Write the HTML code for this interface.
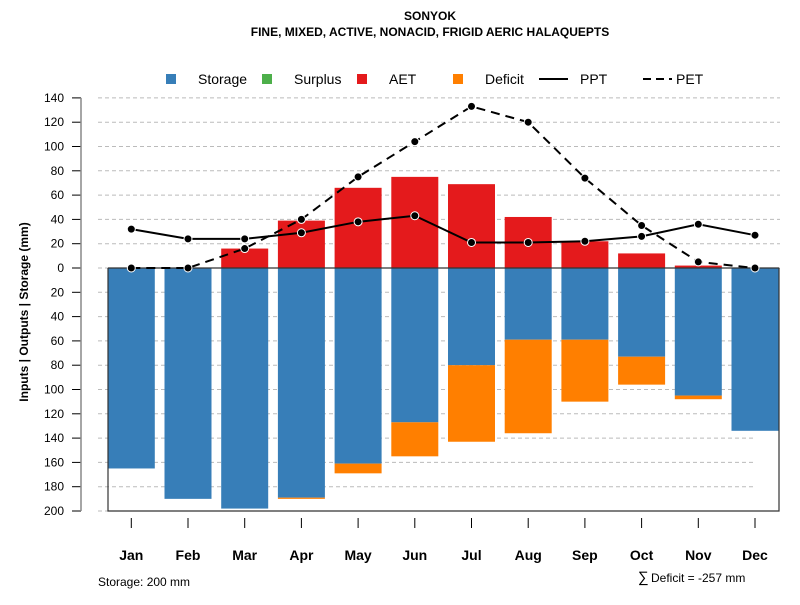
<!DOCTYPE html>
<html><head><meta charset="utf-8"><style>
body{margin:0;background:#fff}
svg text{font-family:"Liberation Sans",Arial,sans-serif}
</style></head><body>
<svg id="c" width="800" height="600" xmlns="http://www.w3.org/2000/svg">
<text x="430" y="20" text-anchor="middle" font-size="12" font-weight="bold">SONYOK</text>
<text x="430" y="36" text-anchor="middle" font-size="12" font-weight="bold">FINE, MIXED, ACTIVE, NONACID, FRIGID AERIC HALAQUEPTS</text>
<g font-size="14">
<g><rect x="166" y="74" width="10" height="10" fill="#377eb8"/><text x="198" y="84">Storage</text></g>
<g><rect x="262" y="74" width="10" height="10" fill="#4daf4a"/><text x="294" y="84">Surplus</text></g>
<g><rect x="357" y="74" width="10" height="10" fill="#e41a1c"/><text x="389" y="84">AET</text></g>
<g><rect x="453" y="74" width="10" height="10" fill="#ff7f00"/><text x="485" y="84">Deficit</text></g>
<g><line x1="539" y1="79" x2="568" y2="79" stroke="#000" stroke-width="2"/><text x="580" y="84">PPT</text></g>
<g><line x1="643" y1="79" x2="672" y2="79" stroke="#000" stroke-width="2" stroke-dasharray="8,5"/><text x="676" y="84">PET</text></g>
</g>
<g id="grid"></g><g id="bars"></g><g id="frame"></g><g id="lines"></g><g id="axes"></g>
<text transform="translate(28,312) rotate(-90)" text-anchor="middle" font-size="12" font-weight="bold">Inputs | Outputs | Storage    (mm)</text>
<text x="98" y="586" font-size="12">Storage: 200 mm</text>
<text x="638" y="582" font-size="15">∑</text>
<text x="651" y="582" font-size="12">Deficit = -257 mm</text>
</svg>
<script>
const months=["Jan","Feb","Mar","Apr","May","Jun","Jul","Aug","Sep","Oct","Nov","Dec"];
const storage=[165,190,198,189,161,127,80,59,59,73,105,134];
const deficit=[0,0,0,1,8,28,63,77,51,23,3,0];
const aet=[0,0,16,39,66,75,69,42,22,12,2,0];
const surplus=[0,0,0,0,0,0,0,0,0,0,0,0];
const ppt=[32,24,24,29,38,43,21,21,22,26,36,27];
const pet=[0,0,16,40,75,104,133,120,74,35,5,0];
const posTicks=[0,20,40,60,80,100,120,140];
const negTicks=[20,40,60,80,100,120,140,160,180,200];
const NS="http://www.w3.org/2000/svg";
const y0=268,k=243/200;
const yUp=v=>y0-v*k, yDn=v=>y0+v*k;
const x=i=>131.3+i*56.7;const bw=47;
function mk(p,t,a){const e=document.createElementNS(NS,t);for(const n in a)e.setAttribute(n,a[n]);document.getElementById(p).appendChild(e);return e;}
posTicks.forEach(v=>{const g=mk('grid','line',{x1:98,x2:780,y1:yUp(v),y2:yUp(v),stroke:'#bbb','stroke-dasharray':'4,3'});


const t=mk('axes','line',{x1:72,x2:81,y1:yUp(v),y2:yUp(v),stroke:'#000'});


const l=mk('axes','text',{x:64,y:yUp(v)+4,'text-anchor':'end','font-size':12});l.textContent=v;

});
negTicks.forEach(v=>{const g=mk('grid','line',{x1:98,x2:756,y1:yDn(v),y2:yDn(v),stroke:'#bbb','stroke-dasharray':'4,3'});


const t=mk('axes','line',{x1:72,x2:81,y1:yDn(v),y2:yDn(v),stroke:'#000'});


const l=mk('axes','text',{x:64,y:yDn(v)+4,'text-anchor':'end','font-size':12});l.textContent=v;

});
const ax=mk('axes','line',{x1:81,x2:81,y1:yUp(140),y2:yDn(200),stroke:'#888','stroke-width':1.5});


months.forEach((m,i)=>{const cx=x(i);
const s=mk('bars','rect',{x:cx-bw/2,y:y0,width:bw,height:storage[i]*k,fill:'#377eb8'});


const d=mk('bars','rect',{x:cx-bw/2,y:yDn(storage[i]),width:bw,height:deficit[i]*k,fill:'#ff7f00'});


const a=mk('bars','rect',{x:cx-bw/2,y:yUp(aet[i]),width:bw,height:aet[i]*k,fill:'#e41a1c'});


const su=mk('bars','rect',{x:cx-bw/2,y:yUp(aet[i]+surplus[i]),width:bw,height:surplus[i]*k,fill:'#4daf4a'});


const t=mk('axes','line',{x1:cx,x2:cx,y1:518,y2:528,stroke:'#000'});


const l=mk('axes','text',{x:cx,y:560,'text-anchor':'middle','font-size':14,'font-weight':'bold'});l.textContent=m;

});
const f=mk('frame','path',{d:`M108,${y0} V511 H779 V${y0}`,fill:'none',stroke:'#333','stroke-width':1.2});


const z=mk('frame','line',{x1:108,x2:779,y1:y0,y2:y0,stroke:'#333','stroke-width':1.2});


function series(arr,name,dash){const p=mk('lines','polyline',{points:arr.map((v,i)=>x(i)+','+yUp(v)).join(' '),fill:'none',stroke:'#000','stroke-width':2,'stroke-dasharray':dash});


arr.forEach((v,i)=>{const c=mk('lines','circle',{cx:x(i),cy:yUp(v),r:4,fill:'#000',stroke:'#fff','stroke-width':1});

});}
series(ppt,'ppt','none');
series(pet,'pet','9,6');
</script>
</body></html>
